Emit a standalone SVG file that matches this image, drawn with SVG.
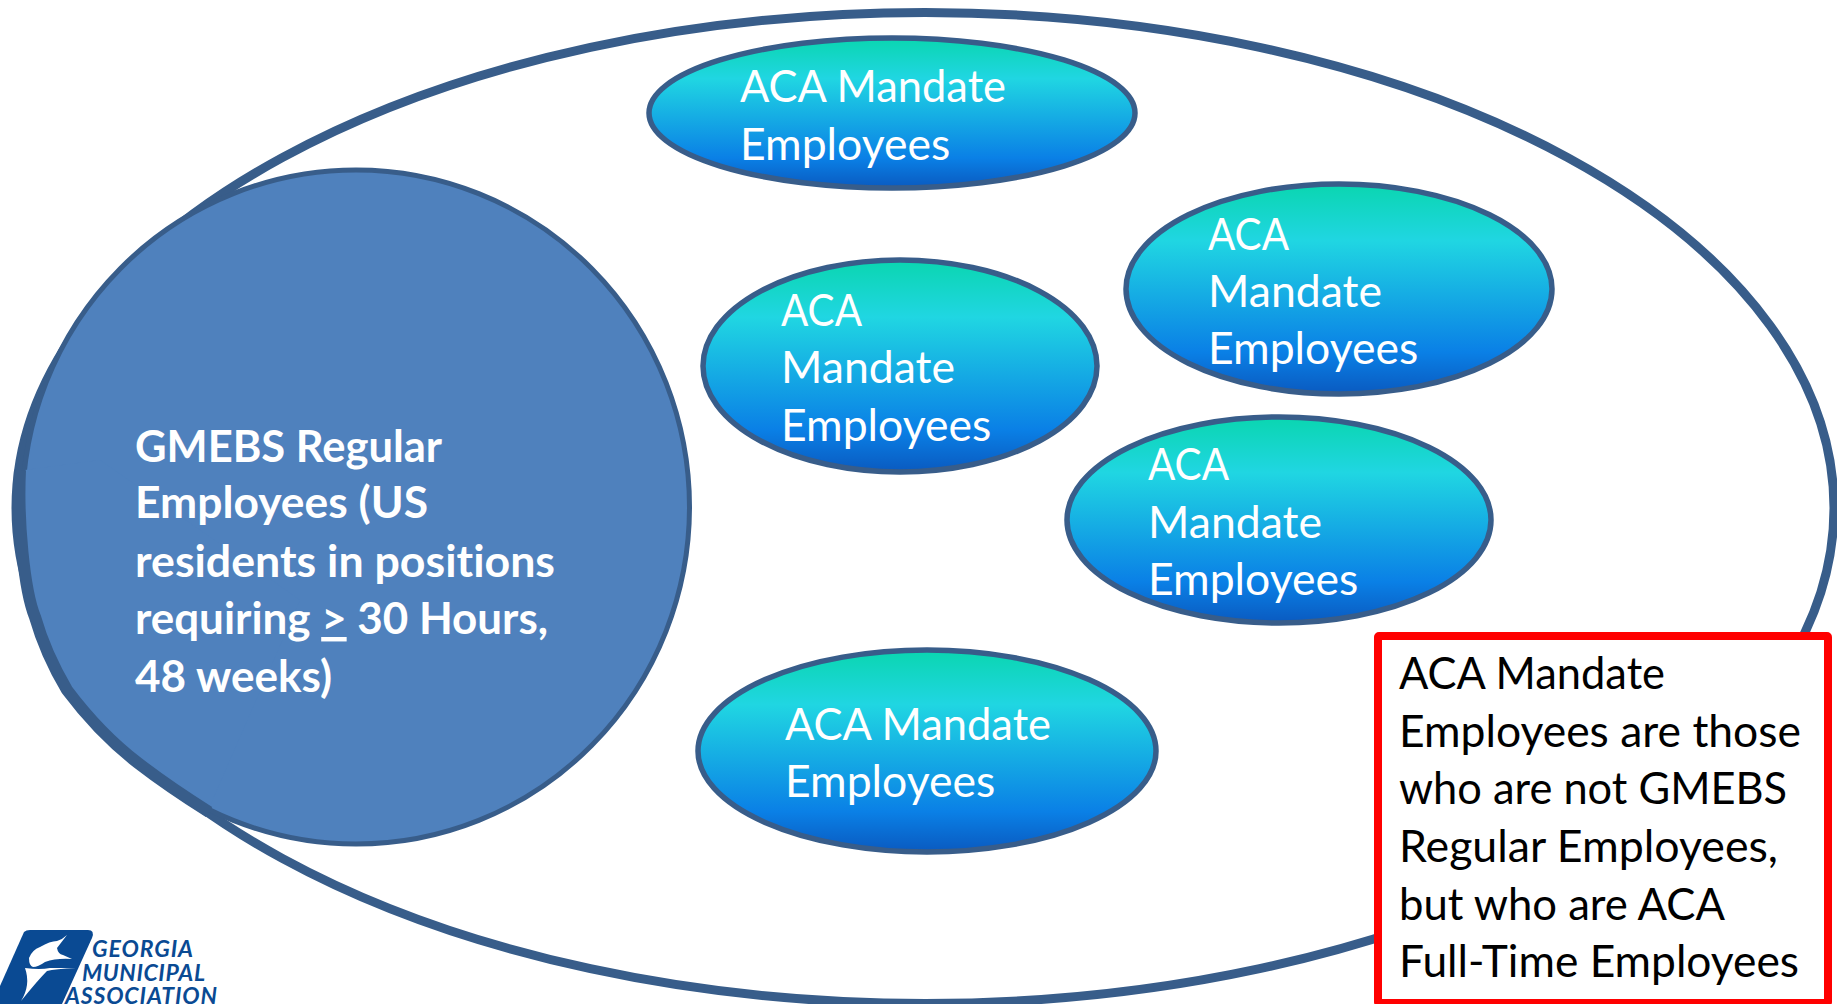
<svg xmlns="http://www.w3.org/2000/svg" width="1837" height="1004" viewBox="0 0 1837 1004">
<style>
text{font-family:"Lato","Carlito","Liberation Sans",sans-serif;font-size:44.5px;font-variant-ligatures:none}
.w{fill:#fff}
.b{fill:#000}
.s{font-weight:700;fill:#fff}
.oval{fill:url(#g);stroke:#385d8a;stroke-width:5.5}
.logo{font-style:italic;font-weight:700;font-size:23px;fill:#0a4a93}
</style>
<defs>
<linearGradient id="g" x1="0" y1="0" x2="0" y2="1">
<stop offset="0" stop-color="#0ad6b0"/>
<stop offset=".27" stop-color="#20d6e2"/>
<stop offset=".8" stop-color="#0a80e6"/>
<stop offset="1" stop-color="#0a5ac0"/>
</linearGradient>
</defs>
<rect width="1837" height="1004" fill="#fff"/>
<g id="outer"><ellipse cx="925" cy="508" rx="909" ry="495.5" fill="#fff" stroke="#385d8a" stroke-width="9"/></g>
<g id="gmebs">
<ellipse cx="356" cy="507" rx="333.5" ry="337" fill="#4f81bd" stroke="#385d8a" stroke-width="5"/>
<path d="M25 470C23 520 29 590 40 615C48 643 58 666 71 688C92 716 116 741 142 761C164 778 186 793 209 808L300 600L100 460Z" fill="#4f81bd"/>
<path d="M20 470C17.5 520 24 590 35 617C43 645 54 668 67 690C88 718 112 743 138 763C160 780 182 795 209 812" fill="none" stroke="#385d8a" stroke-width="12"/>
<text class="s" x="135" y="462" textLength="307" lengthAdjust="spacingAndGlyphs">GMEBS Regular</text>
<text class="s" x="135" y="518" textLength="293" lengthAdjust="spacingAndGlyphs">Employees (US</text>
<text class="s" x="135" y="577" textLength="420" lengthAdjust="spacingAndGlyphs">residents in positions</text>
<text class="s" x="135" y="634" textLength="413" lengthAdjust="spacingAndGlyphs">requiring <tspan text-decoration="underline">&gt;</tspan> 30 Hours,</text>
<text class="s" x="135" y="692" textLength="197" lengthAdjust="spacingAndGlyphs">48 weeks)</text>
</g>
<g id="aca1"><ellipse class="oval" cx="892" cy="113" rx="243" ry="75"/>
<text class="w" x="740" y="102" textLength="266" lengthAdjust="spacingAndGlyphs">ACA Mandate</text><text class="w" x="740" y="160">Employees</text></g>
<g id="aca2"><ellipse class="oval" cx="900" cy="366" rx="197" ry="106"/>
<text class="w" x="781" y="326" textLength="81" lengthAdjust="spacingAndGlyphs">ACA</text><text class="w" x="781" y="383" textLength="174" lengthAdjust="spacingAndGlyphs">Mandate</text><text class="w" x="781" y="441">Employees</text></g>
<g id="aca3"><ellipse class="oval" cx="1339" cy="289" rx="213" ry="105"/>
<text class="w" x="1208" y="250" textLength="81" lengthAdjust="spacingAndGlyphs">ACA</text><text class="w" x="1208" y="307" textLength="174" lengthAdjust="spacingAndGlyphs">Mandate</text><text class="w" x="1208" y="364">Employees</text></g>
<g id="aca4"><ellipse class="oval" cx="1279" cy="520" rx="212" ry="103"/>
<text class="w" x="1148" y="480" textLength="81" lengthAdjust="spacingAndGlyphs">ACA</text><text class="w" x="1148" y="538" textLength="174" lengthAdjust="spacingAndGlyphs">Mandate</text><text class="w" x="1148" y="595">Employees</text></g>
<g id="aca5"><ellipse class="oval" cx="927" cy="751" rx="229" ry="101"/>
<text class="w" x="785" y="740" textLength="266" lengthAdjust="spacingAndGlyphs">ACA Mandate</text><text class="w" x="785" y="797">Employees</text></g>
<g id="note"><rect x="1378" y="636" width="450" height="367" rx="1" fill="#fff" stroke="#f00" stroke-width="8"/>
<text class="b" x="1399" y="689" textLength="266" lengthAdjust="spacingAndGlyphs">ACA Mandate</text>
<text class="b" x="1399" y="747" textLength="402" lengthAdjust="spacingAndGlyphs">Employees are those</text>
<text class="b" x="1399" y="804" textLength="388" lengthAdjust="spacingAndGlyphs">who are not GMEBS</text>
<text class="b" x="1399" y="862" textLength="379" lengthAdjust="spacingAndGlyphs">Regular Employees,</text>
<text class="b" x="1399" y="920" textLength="326" lengthAdjust="spacingAndGlyphs">but who are ACA</text>
<text class="b" x="1399" y="977" textLength="400" lengthAdjust="spacingAndGlyphs">Full-Time Employees</text></g>
<g id="logo">
<path d="M24 932Q26 930 30 930H88Q95 930 92 938L62 1004H0V986Z" fill="#0a4a93"/>
<path d="M67 935L57 948Q58 954 63 955L72 959Q56 958 45 962Q38 967 33 967Q29 966 29 958Q32 950 40 947Q50 941 57 941Q63 939 67 935ZM25 968Q40 970 50 968L76 968Q55 969 47 971Q38 980 21 1001Q31 985 25 968Z" fill="#fff"/>
<text class="logo" x="92" y="957" textLength="101">GEORGIA</text>
<text class="logo" x="82" y="981" textLength="123">MUNICIPAL</text>
<text class="logo" x="65" y="1004" textLength="152">ASSOCIATION</text>
</g>
</svg>
